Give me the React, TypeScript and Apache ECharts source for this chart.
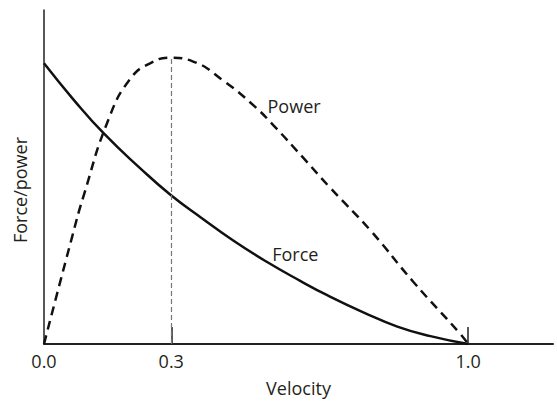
import React, { useEffect, useRef } from "react";
import * as echarts from "echarts";

const forceVelocity = [0, 0.07, 0.141, 0.227, 0.298, 0.369, 0.447, 0.526, 0.604, 0.67, 0.754, 0.833, 0.911, 1.0];
const force = [1.0, 0.87, 0.75, 0.626, 0.532, 0.452, 0.368, 0.292, 0.225, 0.172, 0.112, 0.062, 0.028, 0];
const powerVelocity = [0, 0.066, 0.093, 0.152, 0.203, 0.25, 0.3, 0.349, 0.423, 0.494, 0.541, 0.612, 0.675, 0.77, 0.871, 0.982, 1.0];
const power = [0, 0.38, 0.526, 0.8, 0.944, 1.0, 1.02, 1.008, 0.938, 0.85, 0.779, 0.662, 0.556, 0.404, 0.221, 0.035, 0];
const xLabelValues = [0, 0.3, 1.0];
const xTickValues = [0.3, 1.0];
const seriesNames = ["Force", "Power"];
const axisNames = { x: "Velocity", y: "Force/power" };

const FONT = "Open Sans";
const FS = 18;
const INK = "#231f20";

export default function App() {
  const ref = useRef<HTMLDivElement>(null);
  useEffect(() => {
    if (!ref.current) return;
    const chart = echarts.init(ref.current, null, { renderer: "svg" });
    const forceData = forceVelocity.map((v, i) => [v, force[i]]);
    const powerData = powerVelocity.map((v, i) => [v, power[i]]);
    let peakIdx = 0;
    power.forEach((p, i) => { if (p > power[peakIdx]) peakIdx = i; });
    const textStyle = { fontFamily: FONT, fontSize: FS, color: INK };
    chart.setOption({
      animation: false,
      grid: { left: 44, right: 4, top: 10, bottom: 54, containLabel: false },
      xAxis: {
        type: "value",
        min: 0,
        max: 1.2,
        interval: 0.1,
        name: axisNames.x,
        nameLocation: "middle",
        nameGap: 35,
        nameTextStyle: textStyle,
        axisLine: { show: true, lineStyle: { color: INK, width: 2 } },
        axisTick: { show: true, inside: true, length: 17, customValues: xTickValues, lineStyle: { color: INK, width: 1.5 } },
        axisLabel: {
          show: true,
          customValues: xLabelValues,
          formatter: (v: number) => v.toFixed(1),
          ...textStyle,
          margin: 8,
        },
        splitLine: { show: false },
      },
      yAxis: {
        type: "value",
        min: 0,
        max: 1.19,
        axisLine: { show: true, lineStyle: { color: INK, width: 1.5 } },
        axisTick: { show: false },
        axisLabel: { show: false },
        splitLine: { show: false },
      },
      graphic: [
        {
          type: "text",
          x: 19.5,
          y: 190,
          rotation: Math.PI / 2,
          style: {
            text: axisNames.y,
            fontFamily: FONT,
            fontSize: FS,
            fill: INK,
            align: "center",
            verticalAlign: "middle",
          },
        },
      ],
      series: [
        {
          name: seriesNames[0],
          type: "line",
          data: forceData,
          smooth: 0.5,
          symbol: "none",
          lineStyle: { color: "#111", width: 2.5 },
          markPoint: {
            symbol: "circle",
            symbolSize: 0,
            data: [
              {
                coord: [0.538, 0.32],
                label: {
                  show: true,
                  formatter: seriesNames[0],
                  position: "inside",
                  align: "left",
                  verticalAlign: "middle",
                  ...textStyle,
                },
              },
            ],
          },
        },
        {
          name: seriesNames[1],
          type: "line",
          data: powerData,
          smooth: 0.5,
          symbol: "none",
          lineStyle: { color: "#111", width: 2.5, type: [9, 6] },
          markLine: {
            silent: true,
            symbol: "none",
            label: { show: false },
            lineStyle: { color: "#777", width: 1.2, type: [5, 3] },
            data: [
              [
                { coord: [powerVelocity[peakIdx], 0] },
                { coord: [powerVelocity[peakIdx], power[peakIdx]] },
              ],
            ],
          },
          markPoint: {
            symbol: "circle",
            symbolSize: 0,
            data: [
              {
                coord: [0.527, 0.848],
                label: {
                  show: true,
                  formatter: seriesNames[1],
                  position: "inside",
                  align: "left",
                  verticalAlign: "middle",
                  ...textStyle,
                },
              },
            ],
          },
        },
      ],
    });
    return () => chart.dispose();
  }, []);
  return <div ref={ref} style={{ width: 557, height: 402, position: "absolute", left: 0, top: 0 }} />;
}
